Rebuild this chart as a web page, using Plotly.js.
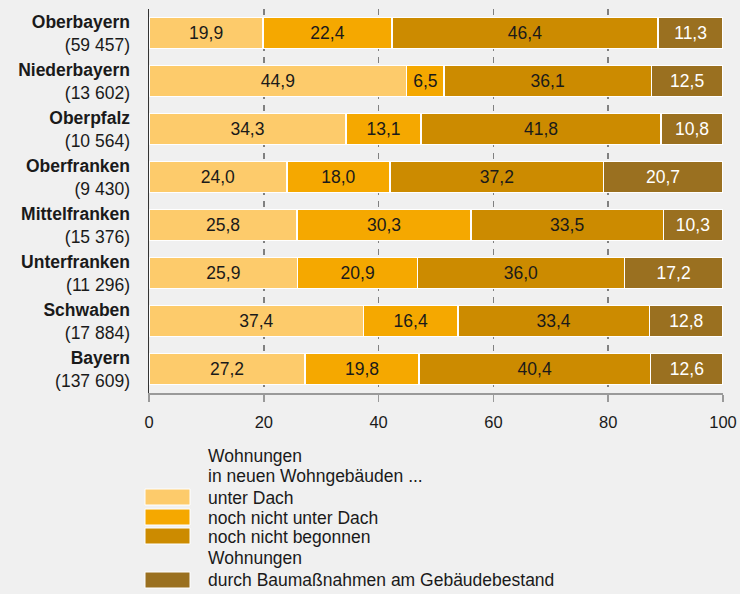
<!DOCTYPE html>
<html><head><meta charset="utf-8">
<script src="https://cdn.plot.ly/plotly-3.0.1.min.js"></script>
<style>body{margin:0;background:#f0f0f0}#c{width:740px;height:594px}</style>
</head><body><div id="c"></div>
<script>
const regions = ['Oberbayern','Niederbayern','Oberpfalz','Oberfranken','Mittelfranken','Unterfranken','Schwaben','Bayern'];
const totals = ['59 457','13 602','10 564','9 430','15 376','11 296','17 884','137 609'];
const unterDach = [19.9,44.9,34.3,24.0,25.8,25.9,37.4,27.2];
const nochNichtUnterDach = [22.4,6.5,13.1,18.0,30.3,20.9,16.4,19.8];
const nochNichtBegonnen = [46.4,36.1,41.8,37.2,33.5,36.0,33.4,40.4];
const gebaeudebestand = [11.3,12.5,10.8,20.7,10.3,17.2,12.8,12.6];
const seriesNames = ['unter Dach','noch nicht unter Dach','noch nicht begonnen','durch Baumaßnahmen am Gebäudebestand'];
const groupHeads = [['Wohnungen','in neuen Wohngebäuden ...'],['Wohnungen']];
const xTicks = [0,20,40,60,80,100];

const colors = ['#FDCB6B','#F5A800','#CC8B00','#9A7020'];
const textColors = ['#1a1a1a','#1a1a1a','#1a1a1a','#fff'];
const FONT = 'Liberation Sans, Arial, sans-serif';
const cats = regions.map((r,i)=>'<b>'+r+'</b><br>('+totals[i]+')');
const values = [unterDach,nochNichtUnterDach,nochNichtBegonnen,gebaeudebestand];

const traces = values.map((v,k)=>({
  type:'bar', orientation:'h', name:seriesNames[k], x:v, y:cats,
  marker:{color:colors[k], line:{color:'#ffffff', width:1.5}},
  text:v.map(d=>d.toFixed(1).replace('.',',')), textposition:'inside', insidetextanchor:'middle',
  constraintext:'none', textfont:{family:FONT,size:17.5,color:textColors[k]},
  hoverinfo:'skip', showlegend:false
}));

const PL=149, PW=574, PT=9, PH=384;
const px2x = p => (p-PL)/PW;
const py2y = p => (PT+PH-p)/PH;

const shapes=[], annotations=[];
const swY = [[489,505],[509,525],[528,544],[572,588]];
const lblY = [498,518,537,580];
for(let k=0;k<4;k++){
  shapes.push({type:'rect',xref:'paper',yref:'paper',x0:px2x(145),x1:px2x(190),y0:py2y(swY[k][1]),y1:py2y(swY[k][0]),
    fillcolor:colors[k],line:{color:'#ffffff',width:1}});
  annotations.push({xref:'paper',yref:'paper',x:px2x(206),y:py2y(lblY[k]),xanchor:'left',yanchor:'middle',showarrow:false,
    text:seriesNames[k],font:{family:FONT,size:17.5,color:'#1a1a1a'}});
}
const headY = [[456,476],[558]];
groupHeads.forEach((g,gi)=>g.forEach((t,li)=>{
  annotations.push({xref:'paper',yref:'paper',x:px2x(206),y:py2y(headY[gi][li]),xanchor:'left',yanchor:'middle',showarrow:false,
    text:t,font:{family:FONT,size:17.5,color:'#1a1a1a'}});
}));

const layout = {
  width:740,height:594,paper_bgcolor:'#f0f0f0',plot_bgcolor:'#f0f0f0',
  margin:{l:PL,r:740-PL-PW,t:PT,b:594-PT-PH,pad:0},
  barmode:'stack',bargap:0.35,separators:', ',
  font:{family:FONT,color:'#1a1a1a'},
  xaxis:{range:[0,100],tickvals:xTicks,showgrid:true,gridcolor:'#808080',griddash:'6px,6px',gridwidth:1.5,
    zeroline:false,showline:true,linecolor:'#9a9a9a',linewidth:1.5,ticks:'outside',ticklen:7,tickwidth:1.5,tickcolor:'#9a9a9a',
    tickfont:{family:FONT,size:16.5,color:'#1a1a1a'},ticklabelstandoff:7,fixedrange:true},
  yaxis:{autorange:'reversed',showgrid:false,zeroline:false,showline:true,linecolor:'#333',linewidth:1.5,ticks:'',
    tickfont:{family:FONT,size:17.5,color:'#1a1a1a'},ticklabelstandoff:14,fixedrange:true},
  shapes:shapes,annotations:annotations
};
Plotly.newPlot('c',traces,layout,{displayModeBar:false,staticPlot:true});
</script></body></html>
